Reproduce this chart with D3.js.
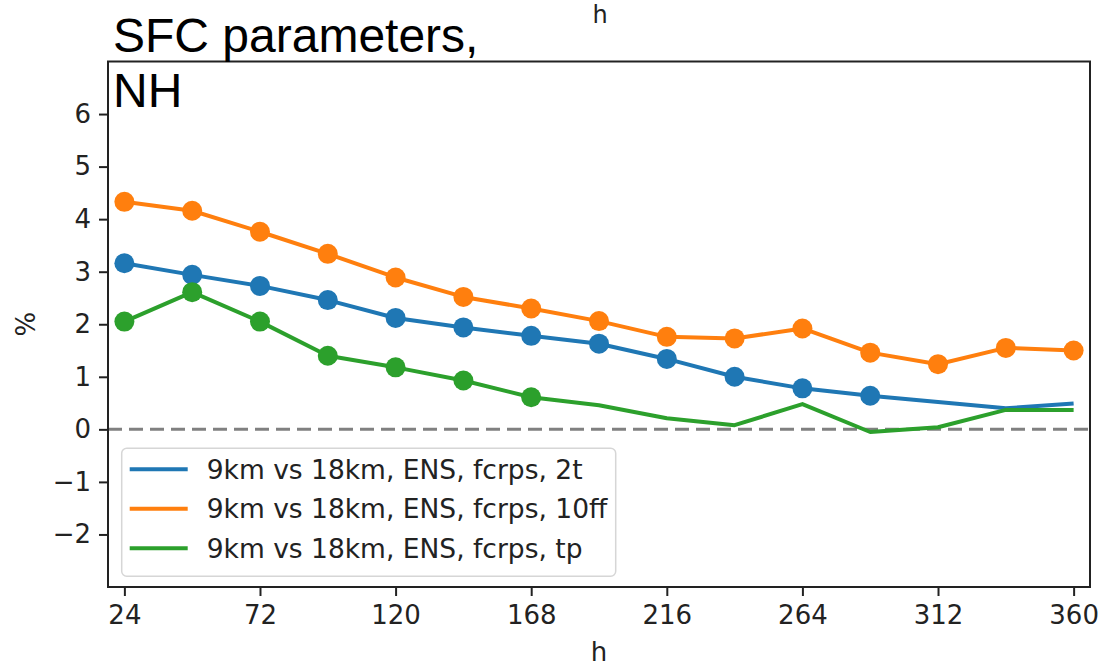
<!DOCTYPE html>
<html>
<head>
<meta charset="utf-8">
<script src="https://cdn.jsdelivr.net/npm/d3@7"></script>
<style>
  body { margin: 0; background: #fff; }
  text { font-family: "DejaVu Sans", sans-serif; fill: #222; }
  .title { font-family: "Liberation Sans", Arial, sans-serif; fill: #000; }
</style>
</head>
<body>
<div id="chart"></div>
<script>
// forecast step (h)
var steps = [24, 48, 72, 96, 120, 144, 168, 192, 216, 240, 264, 288, 312, 336, 360];
var xTicks = [24, 72, 120, 168, 216, 264, 312, 360];
var yTicks = [-2, -1, 0, 1, 2, 3, 4, 5, 6];

// values (%)
var t2 = [3.16, 2.94, 2.73, 2.46, 2.12, 1.94, 1.78, 1.63, 1.34, 1.00, 0.78, 0.64, 0.52, 0.40, 0.49];
var ff10 = [4.33, 4.16, 3.76, 3.34, 2.89, 2.52, 2.30, 2.06, 1.76, 1.73, 1.92, 1.46, 1.24, 1.55, 1.50];
var tp = [2.05, 2.61, 2.05, 1.40, 1.18, 0.93, 0.61, 0.46, 0.21, 0.08, 0.48, -0.05, 0.04, 0.37, 0.37];

var seriesNames = [
    "9km vs 18km, ENS, fcrps, 2t",
    "9km vs 18km, ENS, fcrps, 10ff",
    "9km vs 18km, ENS, fcrps, tp"
];
var seriesColors = ["#1f77b4", "#ff7f0e", "#2ca02c"];
// how many points carry a marker in each series
var markerCounts = [12, 15, 7];

var series = [t2, ff10, tp].map(function(vals, i) {
    return {
        name: seriesNames[i],
        color: seriesColors[i],
        markers: markerCounts[i],
        values: vals.map(function(v, j) { return { h: steps[j], v: v }; })
    };
});

var width = 1102, height = 670;
var margin = { top: 61.5, right: 12, bottom: 83, left: 108 };
var w = width - margin.left - margin.right,
    h = height - margin.top - margin.bottom;

var svg = d3.select("#chart").append("svg")
    .attr("width", width)
    .attr("height", height);

var g = svg.append("g")
    .attr("transform", "translate(" + margin.left + "," + margin.top + ")");

var x = d3.scaleLinear().domain([18.2, 365.8]).range([0, w]);
var y = d3.scaleLinear().domain([-3, 7]).range([h, 0]);

// axes
var xAxis = d3.axisBottom(x).tickValues(xTicks).tickSize(9).tickPadding(10);
var yAxis = d3.axisLeft(y).tickValues(yTicks).tickSize(9).tickPadding(8)
    .tickFormat(function(d) { return d < 0 ? "\u2212" + Math.abs(d) : d; });

var gx = g.append("g")
    .attr("transform", "translate(0," + h + ")")
    .call(xAxis);
var gy = g.append("g").call(yAxis);

[gx, gy].forEach(function(a) {
    a.select(".domain").remove();
    a.selectAll(".tick line").attr("stroke", "#222").attr("stroke-width", 2);
    a.selectAll(".tick text").style("font-size", "26px").attr("fill", "#222");
});

// zero line
g.append("line")
    .attr("x1", 0).attr("x2", w)
    .attr("y1", y(0)).attr("y2", y(0))
    .attr("stroke", "#808080")
    .attr("stroke-width", 3)
    .attr("stroke-dasharray", "14,7");

// lines
var line = d3.line()
    .x(function(d) { return x(d.h); })
    .y(function(d) { return y(d.v); });

var groups = g.selectAll(".series")
    .data(series)
    .enter().append("g")
    .attr("class", "series");

groups.append("path")
    .attr("d", function(d) { return line(d.values); })
    .attr("fill", "none")
    .attr("stroke", function(d) { return d.color; })
    .attr("stroke-width", 4)
    .attr("stroke-linejoin", "round");

groups.each(function(d) {
    d3.select(this).selectAll("circle")
        .data(d.values.slice(0, d.markers))
        .enter().append("circle")
        .attr("cx", function(p) { return x(p.h); })
        .attr("cy", function(p) { return y(p.v); })
        .attr("r", 10)
        .attr("fill", d.color);
});

// frame
g.append("rect")
    .attr("width", w).attr("height", h)
    .attr("fill", "none")
    .attr("stroke", "#222")
    .attr("stroke-width", 2);

// legend
var legend = g.append("g")
    .attr("transform", "translate(" + (121.7 - margin.left) + "," + (448.3 - margin.top) + ")");

legend.append("rect")
    .attr("width", 494).attr("height", 128)
    .attr("rx", 5)
    .attr("fill", "#fff")
    .attr("fill-opacity", 0.85)
    .attr("stroke", "#d6d6d6")
    .attr("stroke-width", 1.5);

var items = legend.selectAll(".item")
    .data(series)
    .enter().append("g")
    .attr("class", "item")
    .attr("transform", function(d, i) { return "translate(0," + (21 + i * 39.5) + ")"; });

items.append("line")
    .attr("x1", 8).attr("x2", 66)
    .attr("stroke", function(d) { return d.color; })
    .attr("stroke-width", 4);

items.append("text")
    .attr("x", 85)
    .attr("dy", "0.36em")
    .style("font-size", "26.5px")
    .text(function(d) { return d.name; });

// axis labels
svg.append("text")
    .attr("x", margin.left + w / 2)
    .attr("y", 661)
    .attr("text-anchor", "middle")
    .style("font-size", "26px")
    .text("h");

svg.append("text")
    .attr("transform", "translate(35," + (y(2) + margin.top) + ") rotate(-90)")
    .attr("text-anchor", "middle")
    .style("font-size", "26px")
    .text("%");

// label of the panel above, at the very top
svg.append("text")
    .attr("x", 600)
    .attr("y", 23)
    .attr("text-anchor", "middle")
    .style("font-size", "24px")
    .text("h");

// title
svg.append("text")
    .attr("class", "title")
    .attr("x", 113)
    .attr("y", 52)
    .style("font-size", "48px")
    .text("SFC parameters,");
svg.append("text")
    .attr("class", "title")
    .attr("x", 113)
    .attr("y", 107)
    .style("font-size", "48px")
    .text("NH");
</script>
</body>
</html>
